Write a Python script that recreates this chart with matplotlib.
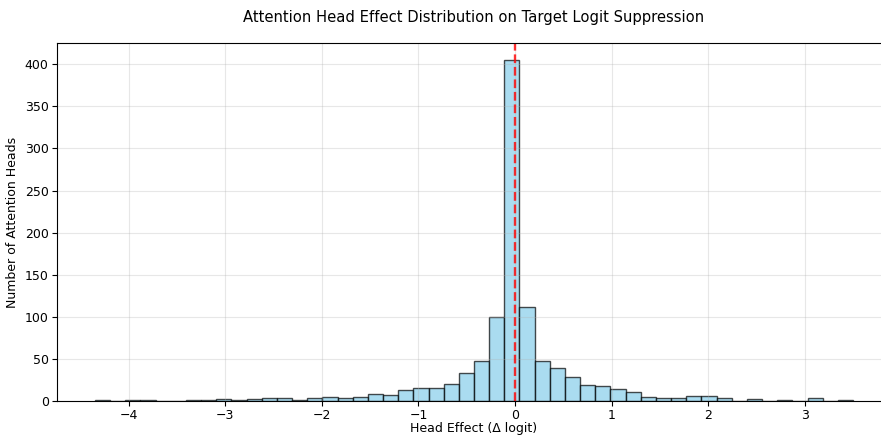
import numpy as np
import matplotlib
matplotlib.use("Agg")
import matplotlib.pyplot as plt

# Histogram der Kopf-Effekte
bin_min = -4.35
bin_max = 3.50
n_bins = 50
counts = [1, 0, 1, 1, 0, 0, 1, 1, 2, 1,
          2, 3, 4, 1, 4, 5, 3, 5, 8, 7,
          13, 16, 15, 20, 33, 47, 100, 405, 112, 48,
          39, 28, 19, 18, 14, 11, 5, 4, 4, 6,
          6, 3, 0, 2, 0, 1, 0, 3, 0, 1]

edges = np.linspace(bin_min, bin_max, n_bins + 1)
centers = (edges[:-1] + edges[1:]) / 2

fig = plt.figure(figsize=(8.81, 4.36), dpi=100)
ax = fig.add_axes([57 / 881, 35 / 436, 834 / 881, 358 / 436])

ax.hist(centers, bins=edges, weights=counts, color='skyblue',
        edgecolor='black', alpha=0.7)
ax.axvline(0, color='red', linestyle='--', linewidth=1.7, alpha=0.8)

ax.set_xlabel('Head Effect (Δ logit)', fontsize=9, labelpad=0)
ax.set_ylabel('Number of Attention Heads', fontsize=9)
ax.set_title('Attention Head Effect Distribution on Target Logit Suppression',
             fontsize=10.6, pad=15)
ax.tick_params(labelsize=9, pad=2.5)
ax.grid(True, alpha=0.3)

plt.savefig("out.png", dpi=100)
